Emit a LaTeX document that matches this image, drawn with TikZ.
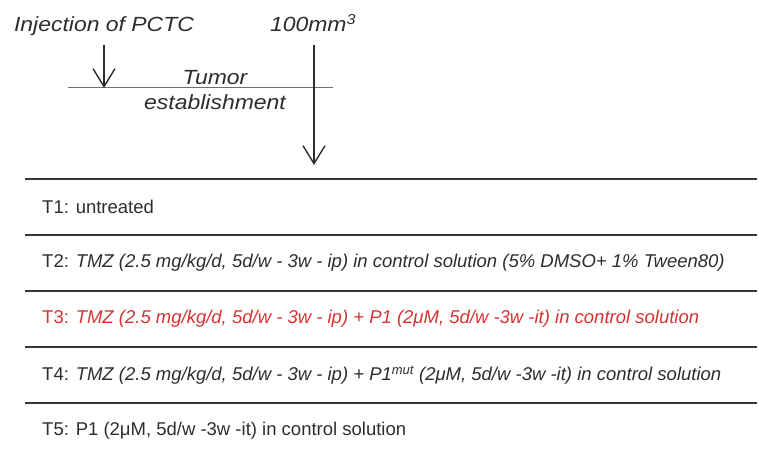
\documentclass[tikz,border=0pt]{standalone}
\usepackage{fontspec}
\setmainfont{Liberation Sans}
\newfontfamily\widesans[FakeStretch=1.12]{Liberation Sans}
\usepackage{xcolor}
\definecolor{inkgray}{RGB}{45, 45, 45}
\definecolor{rulegray}{RGB}{55, 55, 55}
\definecolor{linegray}{RGB}{110, 110, 110}
\definecolor{trialred}{RGB}{215, 50, 50}
\usepackage{tikz}
\usetikzlibrary{arrows.meta,positioning}

\begin{document}
\begin{tikzpicture}[
    x=1pt, y=-1pt,
    toplabel/.style={
        inner sep=0pt, text=inkgray,
        font=\widesans\fontsize{20.5}{25}\selectfont\itshape
    },
    rowtext/.style={
        anchor=west, inner sep=0pt, text=inkgray,
        font=\fontsize{18.5}{22}\selectfont
    },
    downarrow/.style={
        -{Straight Barb[length=18pt,width=22pt]}, line width=1.4pt, draw=inkgray
    },
    rowrule/.style={line width=2.4pt, draw=rulegray}
]
    \useasboundingbox (0,0) rectangle (759,457);

    % Timeline
    \node[toplabel,anchor=base] (inj) at (104,32) {Injection of PCTC};
    \node[toplabel,anchor=base] (vol) at (313,32) {100mm\textsuperscript{3}};
    \node[toplabel,align=center] (tumor) at (215,90) {Tumor\\establishment};
    \coordinate (tlstart) at (68,87);
    \coordinate (tlend) at (333,87);
    \coordinate (injhit) at (104,88);
    \coordinate (volhit) at (314,165);
    \draw[line width=0.9pt, draw=linegray] (tlstart) -- (tlend);
    \draw[downarrow] (inj.south |- 0,45) -- (injhit);
    \draw[downarrow] (volhit |- 0,45) -- (volhit);

    % Treatment groups
    \foreach \y in {179,235,291,347,403} {
        \draw[rowrule] (25,\y) -- (757,\y);
    }
    \node[rowtext] (t1) at (42,207) {T1: untreated};
    \node[rowtext] (t2) at (42,263) {T2: \textit{TMZ (2.5 mg/kg/d, 5d/w - 3w - ip) in control solution (5\% DMSO+ 1\% Tween80)}};
    \node[rowtext,text=trialred] (t3) at (42,319) {T3: \textit{TMZ (2.5 mg/kg/d, 5d/w - 3w - ip) + P1 (2μM, 5d/w -3w -it) in control solution}};
    \node[rowtext] (t4) at (42,375) {T4: \textit{TMZ (2.5 mg/kg/d, 5d/w - 3w - ip) + P1\textsuperscript{mut} (2μM, 5d/w -3w -it) in control solution}};
    \node[rowtext] (t5) at (42,431) {T5: P1 (2μM, 5d/w -3w -it) in control solution};
\end{tikzpicture}
\end{document}
